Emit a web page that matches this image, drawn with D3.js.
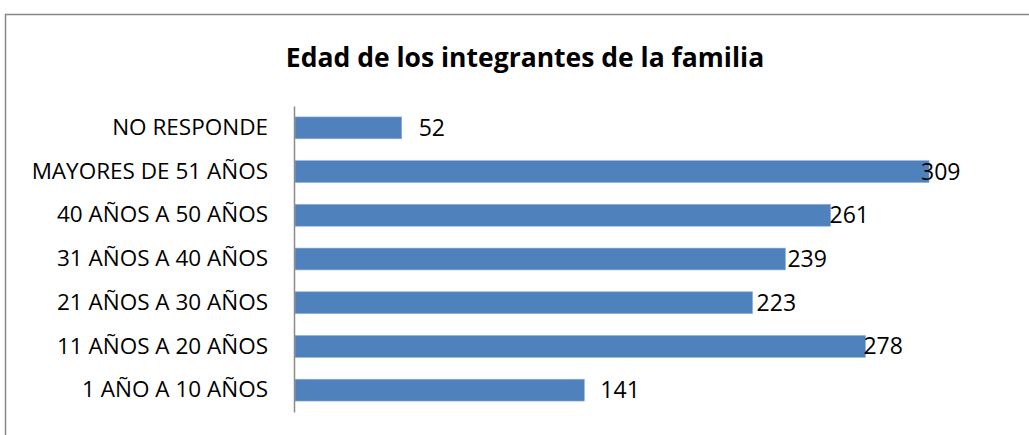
<!DOCTYPE html>
<html>
<head>
<meta charset="utf-8">
<script src="https://cdn.jsdelivr.net/npm/d3@7"></script>
<style>
  body { margin: 0; background: #fff; }
  svg { display: block; font-family: "Open Sans", sans-serif; }
  .cat-label { font-size: 22.5px; fill: #000; font-family: "Open Sans", sans-serif; }
  .val-label { font-size: 23px; fill: #000; }
  .title { font-size: 26.5px; font-weight: bold; fill: #000; }
</style>
</head>
<body>
<div id="svg-container"></div>
<script>
// data
const categories = [
  "NO RESPONDE",
  "MAYORES DE 51 AÑOS",
  "40 AÑOS A 50 AÑOS",
  "31 AÑOS A 40 AÑOS",
  "21 AÑOS A 30 AÑOS",
  "11 AÑOS A 20 AÑOS",
  "1 AÑO A 10 AÑOS"
];
const values = [52, 309, 261, 239, 223, 278, 141];
const chartTitle = "Edad de los integrantes de la familia";

// label nudges (px) as placed in the original
const labelNudge = [17, -8, -1, 2, 4, -2, 16];

const width = 1029;
const height = 435;
const margin = { top: 106, right: 16, bottom: 23, left: 295 };

const svg = d3.select("#svg-container").append("svg")
  .attr("width", width)
  .attr("height", height);

// frame
svg.append("rect")
  .attr("x", 5.5).attr("y", 14.5)
  .attr("width", width + 10).attr("height", height + 10)
  .attr("fill", "none")
  .attr("stroke", "#878787")
  .attr("stroke-width", 1.5);

// scales
const xScale = d3.scaleLinear().domain([0, 350]).range([margin.left, margin.left + 350 * 2.052]);
const yScale = d3.scaleBand()
  .domain(categories)
  .range([margin.top, height - margin.bottom])
  .paddingInner(0.5)
  .paddingOuter(0.25);

// title
svg.append("text")
  .attr("class", "title")
  .attr("x", 525)
  .attr("y", 67)
  .attr("text-anchor", "middle")
  .text(chartTitle);

// bars
svg.selectAll(".bar")
  .data(values)
  .enter()
  .append("rect")
  .attr("class", "bar")
  .attr("x", xScale(0))
  .attr("y", (d, i) => yScale(categories[i]))
  .attr("width", (d) => xScale(d) - xScale(0))
  .attr("height", yScale.bandwidth())
  .attr("fill", "#4f81bd")
  .attr("stroke", "#8eb0dd")
  .attr("stroke-width", 0.6);

// y axis
const yAxis = d3.axisLeft(yScale).tickSize(0).tickPadding(26);
const gy = svg.append("g")
  .attr("transform", `translate(${margin.left - 1}, 0)`)
  .call(yAxis)
  .attr("font-family", null)
  .attr("font-size", null);
gy.select(".domain").attr("stroke", "#8c8c8c").attr("stroke-width", 1.5);
gy.selectAll("text").attr("class", "cat-label");

// value labels
svg.selectAll(".val-label")
  .data(values)
  .enter()
  .append("text")
  .attr("class", "val-label")
  .attr("x", (d, i) => xScale(d) + labelNudge[i])
  .attr("y", (d, i) => yScale(categories[i]) + yScale.bandwidth() / 2)
  .attr("dy", "0.35em")
  .text((d) => d);
</script>
</body>
</html>
